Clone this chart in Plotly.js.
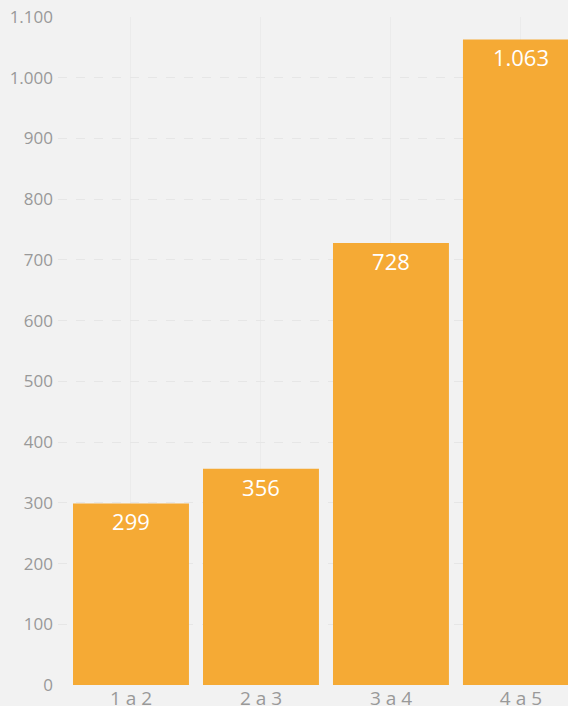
<!DOCTYPE html>
<html>
<head>
<meta charset="utf-8">
<script src="https://cdn.plot.ly/plotly-3.0.1.min.js"></script>
<style>html,body{margin:0;padding:0;background:#f2f2f2;overflow:hidden}#chart{width:568px;height:706px}</style>
</head>
<body>
<div id="chart"></div>
<script>
const categories = ["1 a 2", "2 a 3", "3 a 4", "4 a 5"];
const values = [299, 356, 728, 1063];
const yTicks = [0, 100, 200, 300, 400, 500, 600, 700, 800, 900, 1000, 1100];

const trace = {
  type: 'bar',
  x: categories,
  y: values,
  marker: {color: '#f5aa35'},
  texttemplate: '%{y:,}',
  textposition: 'inside',
  insidetextanchor: 'end',
  textfont: {color: '#ffffff', size: 22, family: 'Open Sans, sans-serif'},
  cliponaxis: false,
  hoverinfo: 'none'
};

const layout = {
  width: 568,
  height: 706,
  margin: {l: 58, r: 0, t: 17, b: 21},
  paper_bgcolor: '#f2f2f2',
  plot_bgcolor: '#f2f2f2',
  separators: ',.',
  bargap: 0.108,
  showlegend: false,
  font: {family: 'Open Sans, sans-serif', color: '#999999'},
  xaxis: {
    type: 'category',
    range: [-0.5615, 3.362],
    showgrid: true,
    gridcolor: '#ebebeb',
    gridwidth: 1,
    zeroline: false,
    showline: false,
    ticks: '',
    tickfont: {size: 19, color: '#999999'},
    ticklabelstandoff: 0
  },
  yaxis: {
    range: [0, 1100],
    tickvals: yTicks,
    tickformat: ',',
    showgrid: true,
    gridcolor: '#e6e6e6',
    griddash: 'dash',
    gridwidth: 1,
    zeroline: false,
    showline: false,
    ticks: '',
    tickfont: {size: 17, color: '#999999'},
    ticklabelstandoff: 4
  }
};

Plotly.newPlot('chart', [trace], layout, {staticPlot: true, displayModeBar: false});
</script>
</body>
</html>
